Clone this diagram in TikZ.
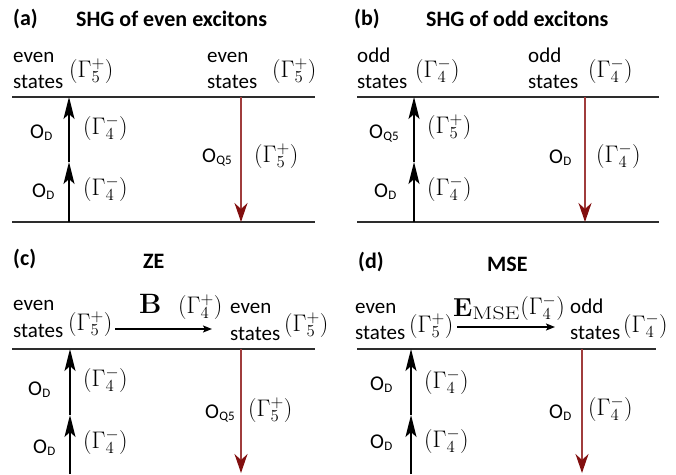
\RequirePackage{fix-cm}
\documentclass[tikz,border=0pt]{standalone}
\usepackage[no-math]{fontspec}
\setmainfont{Carlito}
\usepackage{graphicx}
\usetikzlibrary{arrows.meta}
\newcommand\myOD{O\kern0.3pt\raisebox{-2pt}{\fontsize{13}{13}\selectfont D}}
\newcommand\myOQ{O\kern0.3pt\raisebox{-2pt}{\fontsize{13}{13}\selectfont Q5}}
\definecolor{lvlgray}{RGB}{45,45,45}
\definecolor{darkred}{RGB}{130,15,15}
\definecolor{redline}{RGB}{160,60,60}
\tikzset{
  txt/.style={anchor=base west,inner sep=0pt,font=\fontsize{21}{24}\selectfont},
  ttl/.style={anchor=base west,inner sep=0pt,font=\fontsize{22}{26}\selectfont\bfseries},
  mth/.style={anchor=base west,inner sep=0pt,font=\fontsize{24}{28}\selectfont},
  level/.style={draw=lvlgray,line width=1.7pt},
  upar/.style={draw=black,line width=1.5pt,-{Stealth[length=22pt,width=11pt,inset=5pt]}},
  downar/.style={draw=redline,line width=1.4pt,-{Stealth[length=19pt,width=13pt,inset=6pt,color=darkred]}},
  fieldar/.style={draw=black,line width=2pt,-{Stealth[length=9pt,width=7pt,inset=2pt]}},
}
\begin{document}
\begin{tikzpicture}[x=1pt,y=-1pt]
\useasboundingbox (0,0) rectangle (676,474);
% ---------- panel (a)
\node[ttl] (la) at (13,25) {(a)};
\node[ttl] (ta) at (76,26) {SHG of even excitons};
\node[txt] (a1) at (13,62) {even};
\node[txt] (a2) at (13,88) {states};
\node[mth] (a3) at (69,77) {$(\Gamma_5^+)$};
\node[txt] (a4) at (207,62) {even};
\node[txt] (a5) at (207,88) {states};
\node[mth] (a6) at (272,77) {$(\Gamma_5^+)$};
\node[txt] (a7) at (30,138) {\myOD};
\node[mth] (a8) at (83,134) {$(\Gamma_4^-)$};
\node[txt] (a9) at (32,197) {\myOD};
\node[mth] (a10) at (83,195) {$(\Gamma_4^-)$};
\node[txt] (a11) at (202,162) {\myOQ};
\node[mth] (a12) at (254,162) {$(\Gamma_5^+)$};
\coordinate (aTL) at (12,97);  \coordinate (aTR) at (315,97);
\coordinate (aBL) at (12,222); \coordinate (aBR) at (315,222);
\coordinate (aU0) at (69,222); \coordinate (aU1) at (69,162); \coordinate (aU2) at (69,97);
\coordinate (aD0) at (241,97); \coordinate (aD1) at (241,222);
\draw[level] (aTL) -- (aTR);
\draw[level] (aBL) -- (aBR);
\draw[upar] (aU0) -- (aU1);
\draw[upar] (aU1) -- (aU2);
\draw[downar] (aD0) -- (aD1);
% ---------- panel (b)
\node[ttl] (lb) at (354,25) {(b)};
\node[ttl] (tb) at (426,26) {SHG of odd excitons};
\node[txt] (b1) at (357,62) {odd};
\node[txt] (b2) at (357,88) {states};
\node[mth] (b3) at (415,77) {$(\Gamma_4^-)$};
\node[txt] (b4) at (528,62) {odd};
\node[txt] (b5) at (528,88) {states};
\node[mth] (b6) at (588,77) {$(\Gamma_4^-)$};
\node[txt] (b7) at (369,138) {\myOQ};
\node[mth] (b8) at (427,133) {$(\Gamma_5^+)$};
\node[txt] (b9) at (374,197) {\myOD};
\node[mth] (b10) at (427,195) {$(\Gamma_4^-)$};
\node[txt] (b11) at (549,163) {\myOD};
\node[mth] (b12) at (596,162) {$(\Gamma_4^-)$};
\coordinate (bTL) at (357,97);  \coordinate (bTR) at (659,97);
\coordinate (bBL) at (357,222); \coordinate (bBR) at (659,222);
\coordinate (bU0) at (414,222); \coordinate (bU1) at (414,162); \coordinate (bU2) at (414,97);
\coordinate (bD0) at (585,97); \coordinate (bD1) at (585,222);
\draw[level] (bTL) -- (bTR);
\draw[level] (bBL) -- (bBR);
\draw[upar] (bU0) -- (bU1);
\draw[upar] (bU1) -- (bU2);
\draw[downar] (bD0) -- (bD1);
% ---------- panel (c)
\node[ttl] (lc) at (13,265) {(c)};
\node[ttl] (tc) at (143,268) {ZE};
\node[txt] (c1) at (13,310) {even};
\node[txt] (c2) at (13,337) {states};
\node[mth] (c3) at (68,330) {$(\Gamma_5^+)$};
\node[mth,font=\fontsize{28}{30}\selectfont] (c4) at (139,313) {$\mathbf{B}$};
\node[mth] (c5) at (178,313) {$(\Gamma_4^+)$};
\node[txt] (c6) at (230,313) {even};
\node[txt] (c7) at (230,340) {states};
\node[mth] (c8) at (284,331) {$(\Gamma_5^+)$};
\node[txt] (c9) at (28,395) {\myOD};
\node[mth] (c10) at (83,386) {$(\Gamma_4^-)$};
\node[txt] (c11) at (33,453) {\myOD};
\node[mth] (c12) at (83,448) {$(\Gamma_4^-)$};
\node[txt] (c13) at (205,418) {\myOQ};
\node[mth] (c14) at (248,416) {$(\Gamma_5^+)$};
\coordinate (cF0) at (115,329); \coordinate (cF1) at (212,329);
\coordinate (cTL) at (12,349);  \coordinate (cTR) at (315,349);
\coordinate (cU0) at (70,474); \coordinate (cU1) at (70,415); \coordinate (cU2) at (70,349);
\coordinate (cD0) at (241,349); \coordinate (cD1) at (241,473);
\draw[fieldar] (cF0) -- (cF1);
\draw[level] (cTL) -- (cTR);
\draw[upar] (cU0) -- (cU1);
\draw[upar] (cU1) -- (cU2);
\draw[downar] (cD0) -- (cD1);
% ---------- panel (d)
\node[ttl] (ld) at (358,268) {(d)};
\node[ttl] (td) at (487,271) {MSE};
\node[txt] (d1) at (355,313) {even};
\node[txt] (d2) at (355,339) {states};
\node[mth] (d3) at (409,332) {$(\Gamma_5^+)$};
\node[mth,font=\fontsize{26}{28}\selectfont] (d4) at (453,316) {$\mathbf{E}_{\scalebox{1.3}[1]{$\scriptstyle\mathrm{MSE}$}}$};
\node[mth,anchor=base west] (d5) at ([xshift=0pt,yshift=2pt]d4.base east) {$(\Gamma_4^-)$};
\node[txt] (d6) at (570,313) {odd};
\node[txt] (d7) at (570,339) {states};
\node[mth] (d8) at (623,332) {$(\Gamma_4^-)$};
\node[txt] (d9) at (370,390) {\myOD};
\node[mth] (d10) at (424,388) {$(\Gamma_4^-)$};
\node[txt] (d11) at (370,448) {\myOD};
\node[mth] (d12) at (424,447) {$(\Gamma_4^-)$};
\node[txt] (d13) at (549,418) {\myOD};
\node[mth] (d14) at (588,415) {$(\Gamma_4^-)$};
\coordinate (dF0) at (457,327); \coordinate (dF1) at (555,327);
\coordinate (dTL) at (357,349);  \coordinate (dTR) at (656,349);
\coordinate (dU0) at (411,474); \coordinate (dU1) at (411,415); \coordinate (dU2) at (411,349);
\coordinate (dD0) at (582,349); \coordinate (dD1) at (582,473);
\draw[fieldar] (dF0) -- (dF1);
\draw[level] (dTL) -- (dTR);
\draw[upar] (dU0) -- (dU1);
\draw[upar] (dU1) -- (dU2);
\draw[downar] (dD0) -- (dD1);
\end{tikzpicture}
\end{document}
